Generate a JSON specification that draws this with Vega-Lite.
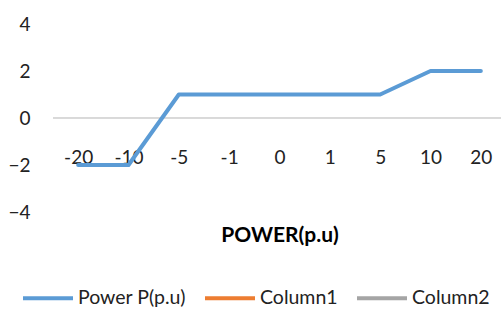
{
  "$schema": "https://vega.github.io/schema/vega-lite/v6.json",
  "width": 453,
  "height": 188,
  "autosize": {"type": "none"},
  "padding": {"left": 53, "top": 24, "right": 0, "bottom": 97},
  "background": "white",
  "config": {"view": {"stroke": null}, "font": "Lato"},
  "data": {"values": [
    {"x": "-20", "y": -2, "series": "Power P(p.u)"},
    {"x": "-10", "y": -2, "series": "Power P(p.u)"},
    {"x": "-5", "y": 1, "series": "Power P(p.u)"},
    {"x": "-1", "y": 1, "series": "Power P(p.u)"},
    {"x": "0", "y": 1, "series": "Power P(p.u)"},
    {"x": "1", "y": 1, "series": "Power P(p.u)"},
    {"x": "5", "y": 1, "series": "Power P(p.u)"},
    {"x": "10", "y": 2, "series": "Power P(p.u)"},
    {"x": "20", "y": 2, "series": "Power P(p.u)"}
  ]},
  "layer": [
    {
      "mark": {"type": "rule", "color": "#D9D9D9", "strokeWidth": 1},
      "encoding": {"y": {"datum": 0, "type": "quantitative"}}
    },
    {
      "mark": {"type": "line", "strokeWidth": 4, "strokeCap": "round", "strokeJoin": "round"},
      "encoding": {
        "x": {
          "field": "x", "type": "ordinal",
          "sort": ["-20", "-10", "-5", "-1", "0", "1", "5", "10", "20"],
          "scale": {"paddingOuter": 0.5},
          "axis": {
            "title": "POWER(p.u)", "titleFontSize": 21, "titleFontWeight": "bold", "titleColor": "#000000",
            "titlePadding": 57,
            "labelAngle": 0, "labelFontSize": 19, "labelColor": "#222222",
            "domain": false, "ticks": false, "offset": -65, "labelPadding": 1
          }
        },
        "y": {
          "field": "y", "type": "quantitative",
          "scale": {"domain": [-4, 4], "nice": false},
          "axis": {
            "title": null, "values": [-4, -2, 0, 2, 4], "grid": false, "domain": false, "ticks": false,
            "labelFontSize": 19, "labelColor": "#222222", "labelPadding": 23
          }
        },
        "color": {
          "field": "series", "type": "nominal",
          "scale": {"domain": ["Power P(p.u)", "Column1", "Column2"], "range": ["#5B9BD5", "#ED7D31", "#A5A5A5"]},
          "legend": {
            "title": null, "orient": "none", "direction": "horizontal",
            "legendX": -32, "legendY": 247,
            "symbolType": "stroke", "symbolSize": 2500, "symbolStrokeWidth": 4,
            "labelFontSize": 19.5, "labelColor": "#222222", "columnPadding": 11, "labelOffset": 3
          }
        }
      }
    }
  ]
}
